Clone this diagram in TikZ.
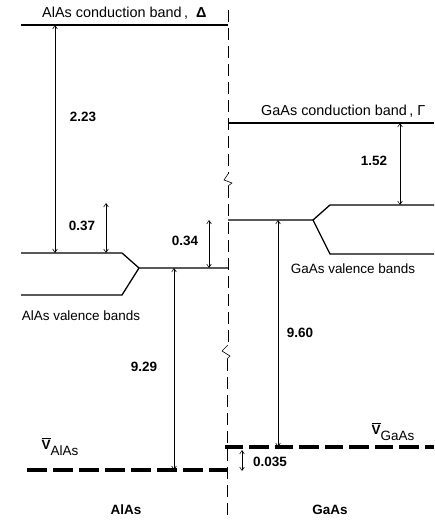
\documentclass[tikz,border=0pt]{standalone}
\usepackage{fontspec}
\setmainfont{Liberation Sans}
\usetikzlibrary{arrows.meta}

\begin{document}
\begin{tikzpicture}[x=0.3mm, y=-0.3mm,
    band/.style={line width=1.1pt},
    gap/.style={{Straight Barb[length=3pt,width=4pt]}-{Straight Barb[length=3pt,width=4pt]}, line width=0.5pt},
    vavg/.style={line width=2.6pt, dash pattern=on 6mm off 1.8mm},
    iface/.style={line width=0.5pt, dash pattern=on 3.6mm off 1.8mm},
    lbl/.style={font=\fontsize{11.5}{13}\selectfont, inner sep=1pt},
    cblbl/.style={font=\fontsize{12.3}{14}\selectfont, inner sep=0pt, anchor=west},
    num/.style={font=\fontsize{11.5}{13}\selectfont\bfseries, inner sep=1pt},
  ]
    \useasboundingbox (0,0) rectangle (434,521);

    % interface with breaks
    \draw[iface] (228,10) -- (228,174);
    \draw[line width=0.5pt] (228,174) -- (224,180) -- (232,183) -- (228,186);
    \draw[iface] (228,186) -- (228,345);
    \draw[line width=0.5pt] (228,345) -- (222,351) -- (230,356) -- (227,359);
    \draw[iface] (227,359) -- (227,521);

    % conduction bands
    \draw[band] (21,25) -- (228,25);
    \draw[band] (228,123) -- (434,123);
    \node[cblbl] (cbal) at (42,13) {AlAs conduction band\,,\ \ \textbf{Δ}};
    \node[cblbl] (cbga) at (261,111) {GaAs conduction band\,,\ Γ};

    % valence bands
    \draw[band] (21,253) -- (122,253) -- (139,268) -- (228,268);
    \draw[band] (21,295) -- (122,295) -- (139,268);
    \draw[band] (228,220) -- (313,220) -- (330,205) -- (434,205);
    \draw[band] (313,220) -- (330,254) -- (434,254);
    \node[lbl] (vbal) at (81,316) {AlAs valence bands};
    \node[lbl] (vbga) at (353,269) {GaAs valence bands};

    % average valence levels
    \draw[vavg] (27,470) -- (228,470);
    \draw[vavg, dash pattern=on 5.4mm off 1.8mm on 6mm off 1.8mm] (225,447) -- (434,447);
    \node[lbl] (val) at (60,447) {$\overline{\hbox{\bfseries V}}$\raisebox{-0.9ex}{AlAs}};
    \node[lbl] (vga) at (393,432) {$\overline{\hbox{\bfseries V}}$\raisebox{-0.9ex}{GaAs}};

    % arrow ends
    \coordinate (a1) at (55,25);   \coordinate (a2) at (55,253);
    \coordinate (b1) at (106,203); \coordinate (b2) at (106,253);
    \coordinate (c1) at (209,220); \coordinate (c2) at (209,268);
    \coordinate (d1) at (174,268); \coordinate (d2) at (174,470);
    \coordinate (e1) at (400,123); \coordinate (e2) at (400,205);
    \coordinate (f1) at (278,220); \coordinate (f2) at (278,447);
    \coordinate (g1) at (242,450); \coordinate (g2) at (242,471);

    \draw[gap] (a1) -- (a2);
    \draw[gap] (b1) -- (b2);
    \draw[gap] (c1) -- (c2);
    \draw[gap] (d1) -- (d2);
    \draw[gap] (e1) -- (e2);
    \draw[gap] (f1) -- (f2);
    \draw[gap] (g1) -- (g2);

    \node[num] (n223) at (83,117) {2.23};
    \node[num] (n037) at (82,226) {0.37};
    \node[num] (n034) at (185,241) {0.34};
    \node[num] (n929) at (144,367) {9.29};
    \node[num] (n152) at (374,161) {1.52};
    \node[num] (n960) at (300,333) {9.60};
    \node[num] (n035) at (270,462) {0.035};

    % materials
    \node[num] (al) at (126,510) {AlAs};
    \node[num] (ga) at (330,510) {GaAs};
  \end{tikzpicture}
\end{document}
